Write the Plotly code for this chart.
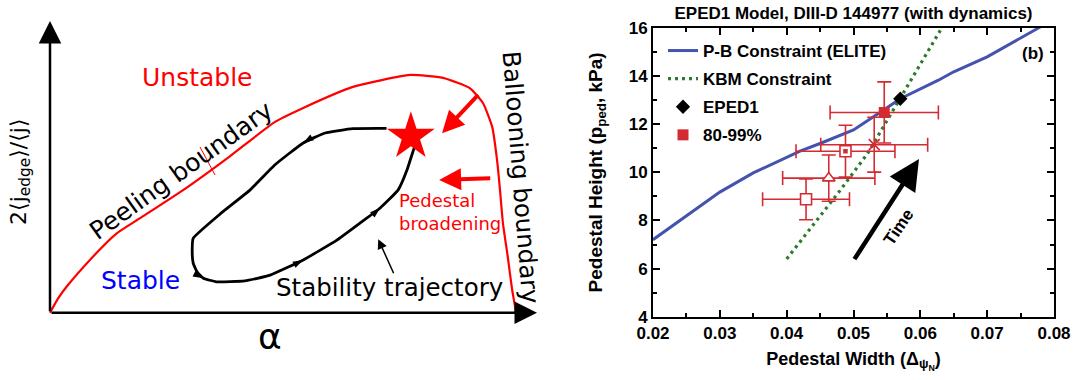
import math
import plotly.graph_objects as go

W, H = 1076, 380

# ---------------- left: peeling-ballooning stability sketch ----------------
# normalised coordinates: alpha (pressure gradient) and 2<j_edge>/<j>
boundary_alpha = [0.000, 0.017, 0.034, 0.082, 0.137, 0.185, 0.274, 0.370, 0.462, 0.520,
                  0.622, 0.739, 0.807, 0.862, 0.889, 0.908, 0.918, 0.924, 0.930, 0.940,
                  0.949, 0.955, 0.956]
boundary_j = [0.000, 0.050, 0.089, 0.181, 0.272, 0.324, 0.421, 0.537, 0.654, 0.702,
              0.774, 0.815, 0.805, 0.770, 0.719, 0.637, 0.523, 0.421, 0.308, 0.191,
              0.078, 0.020, 0.000]

loop_alpha = [0.691, 0.622, 0.565, 0.520, 0.462, 0.411, 0.349, 0.294, 0.292, 0.294,
              0.302, 0.315, 0.342, 0.400, 0.452, 0.520, 0.589, 0.637, 0.678, 0.715,
              0.733, 0.745, 0.754]
loop_j = [0.632, 0.631, 0.616, 0.582, 0.507, 0.421, 0.338, 0.255, 0.215, 0.170,
          0.140, 0.118, 0.106, 0.109, 0.129, 0.181, 0.249, 0.308, 0.359, 0.421,
          0.489, 0.551, 0.592]
loop_arrow_idx = [3, 11, 15, 18]

peeling_mark_alpha = [0.308, 0.339]
peeling_mark_j = [0.568, 0.472]

elm_alpha, elm_j = [0.741], [0.604]

# ---------------- right: EPED1 model, DIII-D 144977 ----------------
pb_width = [0.020, 0.025, 0.030, 0.035, 0.040, 0.042, 0.045, 0.050, 0.054, 0.057,
            0.0627, 0.065, 0.070, 0.075, 0.078]
pb_height = [7.20, 8.20, 9.18, 9.98, 10.62, 10.88, 11.20, 11.76, 12.50, 13.06,
             13.83, 14.18, 14.80, 15.57, 16.05]

kbm_width = [0.040, 0.0447, 0.048, 0.0521, 0.057, 0.060, 0.0632]
kbm_height = [6.40, 8.07, 9.25, 10.78, 13.07, 14.49, 16.00]

eped1_width, eped1_height = [0.0570], [13.06]

meas_width = [0.0429, 0.0463, 0.0488, 0.0531]
meas_height = [8.88, 9.76, 10.88, 11.15]
meas_werr = [0.0065, 0.0069, 0.0074, 0.0080]
meas_herr = [0.85, 0.96, 1.08, 1.14]
meas_symbol = ["square", "triangle-up", "square", "x-thin"]
meas_fill = ["white", "white", "white", "#d42a32"]

late_width, late_height = [0.0546], [12.49]
late_werr, late_herr = [0.0081], [1.27]

time_tail = (0.0500, 6.33)
time_tip = (0.0598, 10.55)

# ---------------- geometry of the sketch panel ----------------
LEFT_FRAC = 0.52
ORIGIN_PX = (50.0, 312.7)   # pixel position of (alpha, j) = (0, 0)
SCALE_PX = (487.0, 291.7)   # pixels per unit alpha / unit j
alpha_range = [-ORIGIN_PX[0] / SCALE_PX[0], (LEFT_FRAC * W - ORIGIN_PX[0]) / SCALE_PX[0]]
j_range = [-(H - ORIGIN_PX[1]) / SCALE_PX[1], ORIGIN_PX[1] / SCALE_PX[1]]

RED = "#ff0000"
DATA_RED = "#d42a32"
SANS = "DejaVu Sans"
BOLD = "Liberation Sans, Arial, sans-serif"

fig = go.Figure()

# stability boundary
fig.add_trace(go.Scatter(
    x=boundary_alpha, y=boundary_j, xaxis="x2", yaxis="y2", mode="lines",
    line=dict(color=RED, width=2.2, shape="spline", smoothing=0.5),
    showlegend=False, hoverinfo="skip"))
fig.add_trace(go.Scatter(
    x=peeling_mark_alpha, y=peeling_mark_j, xaxis="x2", yaxis="y2", mode="lines",
    line=dict(color=RED, width=1), showlegend=False, hoverinfo="skip"))

# stability trajectory
fig.add_trace(go.Scatter(
    x=loop_alpha, y=loop_j, xaxis="x2", yaxis="y2", mode="lines",
    line=dict(color="black", width=2.8, shape="spline", smoothing=0.4),
    showlegend=False, hoverinfo="skip"))

angles = []
for i in loop_arrow_idx:
    dx = (loop_alpha[i + 1] - loop_alpha[i - 1]) * SCALE_PX[0]
    dy = -(loop_j[i + 1] - loop_j[i - 1]) * SCALE_PX[1]
    angles.append(math.degrees(math.atan2(dx, -dy)))
fig.add_trace(go.Scatter(
    x=[loop_alpha[i] for i in loop_arrow_idx], y=[loop_j[i] for i in loop_arrow_idx],
    xaxis="x2", yaxis="y2", mode="markers",
    marker=dict(symbol="arrow", size=11, angle=angles, color="black", line=dict(width=0)),
    showlegend=False, hoverinfo="skip"))

fig.add_trace(go.Scatter(
    x=elm_alpha, y=elm_j, xaxis="x2", yaxis="y2", mode="markers",
    marker=dict(symbol="star", size=36, color=RED, line=dict(width=0)),
    showlegend=False, hoverinfo="skip"))

# ---------------- EPED1 panel traces ----------------
fig.add_trace(go.Scatter(
    x=pb_width, y=pb_height, mode="lines", name="P-B Constraint (ELITE)",
    line=dict(color="#4353ae", width=3), legendgroup="pb", legendrank=1))
fig.add_trace(go.Scatter(
    x=kbm_width, y=kbm_height, mode="lines", name="KBM Constraint",
    line=dict(color="#2e7a2e", width=3.2, dash="3px,4px"), legendgroup="kbm", legendrank=2))

err_style = dict(type="data", color=DATA_RED, thickness=1.6, width=7)
fig.add_trace(go.Scatter(
    x=meas_width, y=meas_height, mode="markers", showlegend=False,
    error_x=dict(array=meas_werr, **err_style), error_y=dict(array=meas_herr, **err_style),
    marker=dict(symbol=meas_symbol, size=11, color=meas_fill,
                line=dict(color=DATA_RED, width=1.6))))
fig.add_trace(go.Scatter(
    x=[meas_width[2]], y=[meas_height[2]], mode="markers", showlegend=False,
    marker=dict(symbol="square", size=4.5, color=DATA_RED, line=dict(width=0))))
fig.add_trace(go.Scatter(
    x=late_width, y=late_height, mode="markers", name="80-99%",
    error_x=dict(array=late_werr, **err_style), error_y=dict(array=late_herr, **err_style),
    marker=dict(symbol="square", size=11, color=DATA_RED, line=dict(width=0)),
    legendgroup="late", legendrank=4))
fig.add_trace(go.Scatter(
    x=eped1_width, y=eped1_height, mode="markers", name="EPED1",
    marker=dict(symbol="diamond", size=11, color="black", line=dict(width=0)),
    legendgroup="eped", legendrank=3))

# ---------------- annotations ----------------
ann = []


def sketch_text(text, a, j, size, color="black", angle=0, **kw):
    ann.append(dict(text=text, x=a, y=j, xref="x2", yref="y2", showarrow=False,
                    textangle=angle, font=dict(family=SANS, size=size, color=color), **kw))


def sketch_arrow(tail, tip, color, width, size, head=2):
    ann.append(dict(x=tip[0], y=tip[1], ax=tail[0], ay=tail[1], xref="x2", yref="y2",
                    axref="x2", ayref="y2", text="", showarrow=True, arrowhead=head,
                    arrowsize=size, arrowwidth=width, arrowcolor=color))


sketch_arrow((0, 0), (0, 1.0), "black", 2.5, 1.8)
sketch_arrow((0, 0), (1.0, 0), "black", 2.5, 1.8)
sketch_arrow((0.882, 0.752), (0.805, 0.615), RED, 4, 1.1)
sketch_arrow((0.907, 0.461), (0.799, 0.455), RED, 4, 1.1)
sketch_arrow((0.707, 0.130), (0.674, 0.252), "black", 1.5, 1.3)

sketch_text("Unstable", 0.302, 0.808, 25, RED)
sketch_text("Stable", 0.185, 0.109, 25, "#0000ff")
sketch_text("Peeling boundary", 0.269, 0.489, 25, angle=-35.5)
sketch_text("Ballooning boundary", 0.968, 0.465, 24.5, angle=85.5)
sketch_text("Stability trajectory", 0.698, 0.085, 24.5)
sketch_text("Pedestal<br>broadening", 0.713, 0.345, 18, RED, xanchor="left", align="left")
sketch_text("2⟨j<sub>edge</sub>⟩/⟨j⟩", -0.062, 0.482, 22, angle=-90)
sketch_text("α", 0.452, -0.080, 36)

ann.append(dict(x=time_tip[0], y=time_tip[1], ax=time_tail[0], ay=time_tail[1],
                xref="x", yref="y", axref="x", ayref="y", text="", showarrow=True,
                arrowhead=2, arrowsize=1.35, arrowwidth=4.5, arrowcolor="black"))
ann.append(dict(text="Time", x=0.0567, y=7.72, xref="x", yref="y", showarrow=False,
                textangle=-56, font=dict(family=BOLD, size=17, color="black", weight="bold")))
ann.append(dict(text="(b)", x=0.0769, y=14.96, xref="x", yref="y", showarrow=False,
                font=dict(family=BOLD, size=17, color="black", weight="bold")))

tick_font = dict(family=BOLD, size=17, color="black", weight="bold")
axis_common = dict(ticks="inside", ticklen=7, tickwidth=1.5, tickcolor="black",
                   showline=True, linewidth=2, linecolor="black", mirror="ticks",
                   showgrid=False, zeroline=False, tickfont=tick_font, automargin=False)

fig.update_layout(
    width=W, height=H, margin=dict(l=0, r=0, t=0, b=0, autoexpand=False),
    paper_bgcolor="white", plot_bgcolor="rgba(0,0,0,0)",
    title=dict(text="EPED1 Model, DIII-D 144977 (with dynamics)",
               x=853.5 / W, xanchor="center", y=1 - 13.5 / H, yanchor="middle",
               xref="paper", yref="paper", automargin=False,
               font=dict(family=BOLD, size=17, color="black", weight="bold")),
    xaxis=dict(domain=[653 / W, 1054 / W], range=[0.02, 0.08], tick0=0.02, dtick=0.01,
               tickformat=".2f",
               minor=dict(dtick=0.005, ticks="inside", ticklen=4, tickwidth=1.5,
                          tickcolor="black"),
               title=dict(text="Pedestal Width (Δ<sub>ψ<sub>N</sub></sub>)",
                          font=dict(family=BOLD, size=18, color="black", weight="bold"),
                          standoff=10),
               **axis_common),
    yaxis=dict(domain=[(H - 316.7) / H, (H - 28) / H], range=[4, 16], dtick=2,
               minor=dict(dtick=1, ticks="inside", ticklen=4, tickwidth=1.5,
                          tickcolor="black"),
               title=dict(text="Pedestal Height (p<sub>ped</sub>, kPa)",
                          font=dict(family=BOLD, size=19, color="black", weight="bold"),
                          standoff=21),
               **axis_common),
    xaxis2=dict(domain=[0, LEFT_FRAC], range=alpha_range, visible=False, anchor="y2",
                automargin=False),
    yaxis2=dict(domain=[0, 1], range=j_range, visible=False, anchor="x2",
                automargin=False),
    legend=dict(x=663 / W, y=1 - 33 / H, xanchor="left", yanchor="top",
                bgcolor="rgba(0,0,0,0)", borderwidth=0, tracegroupgap=3,
                font=dict(family=BOLD, size=17, color="black", weight="bold")),
    annotations=ann,
)

fig.write_html("out.html")
